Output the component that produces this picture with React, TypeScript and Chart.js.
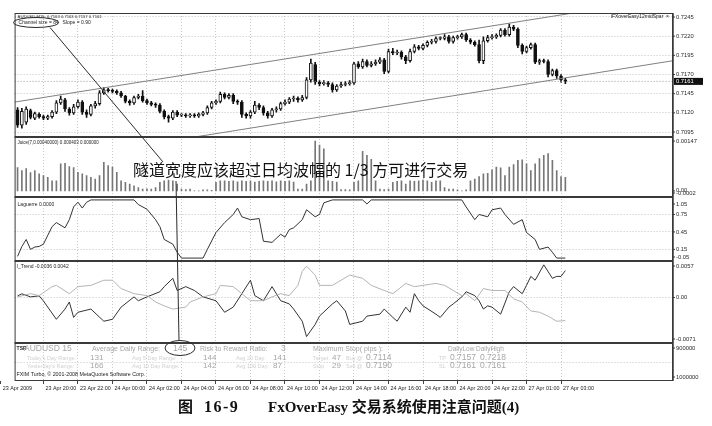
import { useEffect, useRef } from "react";
import { Chart, registerables } from "chart.js";

Chart.register(...registerables);

const FONT = '"Liberation Sans", Arial, sans-serif';
const CJK = '"Noto Sans CJK SC", sans-serif';

// AUDUSD M15 candles, index 0 = first bar on the left
const OPEN = [
  0.7124, 0.7104, 0.7108, 0.7123, 0.7113, 0.7118, 0.7115, 0.7113, 0.7115, 0.7121,
  0.7133, 0.7137, 0.7125, 0.712, 0.7128, 0.7134, 0.7121, 0.7118, 0.7129, 0.7132,
  0.7146, 0.715, 0.7149, 0.7148, 0.7146, 0.7142, 0.7135, 0.7133, 0.714, 0.7142,
  0.7136, 0.7133, 0.7131, 0.713, 0.7122, 0.7115, 0.7113, 0.7121, 0.7117, 0.7117,
  0.7116, 0.7117, 0.7116, 0.7118, 0.712, 0.7127, 0.7133, 0.7135, 0.7144, 0.714,
  0.7143, 0.7135, 0.7134, 0.7118, 0.7116, 0.7121, 0.713, 0.7127, 0.712, 0.7116,
  0.7124, 0.7125, 0.7132, 0.7134, 0.7138, 0.7139, 0.7137, 0.714, 0.7163, 0.7183,
  0.716, 0.7158, 0.7159, 0.7157, 0.715, 0.7155, 0.7157, 0.7158, 0.7159, 0.7184,
  0.718, 0.7187, 0.7182, 0.7184, 0.7186, 0.7189, 0.7174, 0.72, 0.7198, 0.7199,
  0.7193, 0.7188, 0.72, 0.7206, 0.7204, 0.7208, 0.7212, 0.7213, 0.7217, 0.7217,
  0.7219, 0.7213, 0.7218, 0.7219, 0.7222, 0.7215, 0.7212, 0.7209, 0.7188, 0.7214,
  0.7218, 0.7219, 0.7221, 0.7228, 0.7222, 0.7232, 0.7229, 0.7208, 0.72, 0.7205,
  0.7209, 0.7186, 0.7188, 0.7187, 0.717, 0.7175, 0.7168, 0.7163,
];
const HIGH = [
  0.7127, 0.7126, 0.7128, 0.7125, 0.7121, 0.712, 0.7117, 0.7117, 0.7123, 0.7136,
  0.7142, 0.7139, 0.7127, 0.7131, 0.7137, 0.7136, 0.7124, 0.7131, 0.7135, 0.7149,
  0.7153, 0.7152, 0.7151, 0.715, 0.7148, 0.7143, 0.7137, 0.7142, 0.7144, 0.7149,
  0.7138, 0.7135, 0.7133, 0.7132, 0.7124, 0.7117, 0.7123, 0.7123, 0.7119, 0.7119,
  0.7119, 0.7119, 0.712, 0.7122, 0.7129, 0.7135, 0.7137, 0.7147, 0.7146, 0.7145,
  0.7145, 0.7137, 0.7136, 0.712, 0.7123, 0.7135, 0.7132, 0.7129, 0.7122, 0.7126,
  0.7128, 0.7134, 0.7137, 0.714, 0.7142, 0.7141, 0.7143, 0.7166, 0.719, 0.7186,
  0.7162, 0.7162, 0.7161, 0.7159, 0.7157, 0.716, 0.7161, 0.7162, 0.7186, 0.7187,
  0.719, 0.7189, 0.7187, 0.7189, 0.7192, 0.7191, 0.7203, 0.7204, 0.7202, 0.7201,
  0.7195, 0.7203, 0.7209, 0.7208, 0.721, 0.7214, 0.7216, 0.7219, 0.7219, 0.7222,
  0.7221, 0.722, 0.7221, 0.7224, 0.7224, 0.7217, 0.7214, 0.7215, 0.7219, 0.7221,
  0.7222, 0.7223, 0.723, 0.723, 0.7236, 0.7234, 0.7231, 0.721, 0.7207, 0.7211,
  0.7211, 0.719, 0.719, 0.7189, 0.7177, 0.7177, 0.717, 0.7165,
];
const LOW = [
  0.7101, 0.71, 0.7105, 0.7112, 0.7111, 0.7113, 0.7111, 0.7111, 0.7113, 0.7119,
  0.7131, 0.7122, 0.7117, 0.7118, 0.7126, 0.7118, 0.7114, 0.7116, 0.7126, 0.713,
  0.7144, 0.7147, 0.7146, 0.7144, 0.714, 0.7133, 0.713, 0.7131, 0.7138, 0.7134,
  0.7131, 0.7129, 0.7127, 0.712, 0.7112, 0.7108, 0.7111, 0.7115, 0.7115, 0.7114,
  0.7114, 0.7114, 0.7114, 0.7116, 0.7118, 0.7125, 0.7131, 0.7133, 0.7138, 0.7138,
  0.7132, 0.7131, 0.7114, 0.7113, 0.7113, 0.7119, 0.7124, 0.7117, 0.7113, 0.7114,
  0.7121, 0.7123, 0.713, 0.7132, 0.7135, 0.7134, 0.7135, 0.7138, 0.716, 0.7157,
  0.7155, 0.7156, 0.7154, 0.7147, 0.7148, 0.7153, 0.7155, 0.7156, 0.7157, 0.7178,
  0.7178, 0.718, 0.718, 0.7182, 0.7184, 0.7171, 0.7172, 0.7196, 0.7196, 0.719,
  0.7184, 0.7186, 0.7198, 0.7202, 0.7202, 0.7206, 0.721, 0.7211, 0.7215, 0.7215,
  0.7211, 0.7211, 0.7216, 0.7217, 0.7213, 0.721, 0.7207, 0.7185, 0.7184, 0.7212,
  0.7216, 0.7217, 0.7219, 0.722, 0.722, 0.7227, 0.7205, 0.7197, 0.7198, 0.7203,
  0.7184, 0.7183, 0.7185, 0.7167, 0.7168, 0.7165, 0.716, 0.7158,
];
const CLOSE = [
  0.7104, 0.7122, 0.7125, 0.7114, 0.7119, 0.7115, 0.7113, 0.7115, 0.7121, 0.7133,
  0.7138, 0.7125, 0.712, 0.7128, 0.7134, 0.7121, 0.7118, 0.7129, 0.7132, 0.7146,
  0.715, 0.7149, 0.7148, 0.7146, 0.7142, 0.7135, 0.7133, 0.714, 0.7142, 0.7136,
  0.7133, 0.7131, 0.713, 0.7122, 0.7115, 0.7113, 0.7121, 0.7117, 0.7117, 0.7116,
  0.7117, 0.7116, 0.7118, 0.712, 0.7127, 0.7133, 0.7135, 0.7144, 0.714, 0.7143,
  0.7135, 0.7134, 0.7118, 0.7116, 0.7121, 0.713, 0.7127, 0.712, 0.7116, 0.7124,
  0.7125, 0.7132, 0.7134, 0.7138, 0.7139, 0.7137, 0.714, 0.7163, 0.7185, 0.716,
  0.7158, 0.7159, 0.7157, 0.715, 0.7155, 0.7157, 0.7158, 0.7159, 0.7184, 0.718,
  0.7187, 0.7182, 0.7184, 0.7186, 0.7189, 0.7174, 0.72, 0.7198, 0.7199, 0.7193,
  0.7188, 0.72, 0.7206, 0.7204, 0.7208, 0.7212, 0.7213, 0.7217, 0.7217, 0.7219,
  0.7213, 0.7218, 0.7219, 0.7222, 0.7215, 0.7212, 0.7209, 0.7188, 0.7214, 0.7218,
  0.7219, 0.7221, 0.7228, 0.7222, 0.7232, 0.7229, 0.7208, 0.72, 0.7205, 0.7209,
  0.7186, 0.7188, 0.7187, 0.717, 0.7175, 0.7168, 0.7163, 0.7161,
];

// tunnel lines: value at the left and right edge of the chart
const X_MIN = -0.69;
const X_MAX = 151.96;
const CHANNEL_UP = [0.7134, 0.7271];
const CHANNEL_DN = [0.7051, 0.7188];
const BID = 0.7161;

const JUICE = [
  0.00069, 0.0006, 0.00066, 0.00054, 0.0006, 0.0005, 0.00045, 0.0004, 0.0003, 0.0003,
  0.0008, 0.00081, 0.00072, 0.00069, 0.00055, 0.0005, 0.00045, 0.0004, 0.00035, 0.00045,
  0.00084, 0.00075, 0.0007, 0.00055, 0.0003, 0.00025, 0.0002, 0.00015, 0.0001, 0.00005,
  0.00006, 0.00005, 0.0001, 0.00025, 0.0003, 0.00032, 0.0003, 0.0002, 0.00005, 0.00004,
  0.00005, 0, 0, 0.00003, 0.00003, 0.00002, 0.00025, 0.0003, 0.0003, 0.00028,
  0.0003, 0.00027, 0.0003, 0.00028, 0.0003, 0.00026, 0.00028, 0.0003, 0.00028, 0.0003,
  0.00027, 0.0003, 0.00028, 0.0003, 0.00026, 0.00005, 0.00005, 0.0002, 0.0003, 0.00147,
  0.00135, 0.00124, 0.0003, 0.00028, 0.00026, 0.00004, 0.00004, 0.00003, 0.00025, 0.0003,
  0.00117, 0.00105, 0.00093, 0.0003, 0.00005, 0.00004, 0.00005, 0.00025, 0.00028, 0.0003,
  0.0002, 0.0003, 0.00028, 0.0003, 0.00032, 0.0003, 0.00025, 0.0003, 0.0003, 0.0001,
  0.00005, 0.00005, 0.00003, 0, 0.00003, 0.0003, 0.00035, 0.00042, 0.0005, 0.00052,
  0.00062, 0.0007, 0.00068, 0.00045, 0.0007, 0.00078, 0.0009, 0.00092, 0.0008, 0.0006,
  0.0008, 0.00095, 0.00105, 0.0011, 0.0009, 0.0006, 0.00042, 0.0004,
];

const LAG_X = [
  0, 1, 2, 3, 4, 5, 6, 8, 9, 11, 12, 13, 14, 15, 16, 17, 27, 28, 30, 32, 33, 34, 36, 37, 38,
  43, 44, 46, 48, 50, 51, 52, 54, 56, 57, 59, 61, 62, 63, 64, 66, 67, 69, 70, 71, 73, 80, 81,
  82, 103, 104, 106, 107, 109, 110, 112, 113, 115, 117, 118, 120, 121, 123, 124, 125, 127,
];
const LAG = [
  0.03, 0.2, 0.32, 0.15, 0.19, 0.2, 0.24, 0.54, 0.61, 0.52, 0.66, 0.88, 0.96, 0.86, 0.96, 1, 1,
  0.92, 0.84, 0.66, 0.54, 0.32, 0.24, 0.1, 0, 0, 0.15, 0.44, 0.61, 0.75, 0.86, 0.71, 0.66, 0.68,
  0.29, 0.27, 0.41, 0.36, 0.49, 0.52, 0.66, 0.83, 0.71, 0.75, 0.95, 1, 1, 0.93, 1, 1, 0.88, 0.66,
  0.75, 0.71, 0.83, 0.86, 0.75, 0.58, 0.66, 0.44, 0.32, 0.15, 0.19, 0.1, 0, 0,
];

const TREND_LIGHT_X = [
  0, 3, 5, 8, 9, 12, 14, 17, 20, 22, 24, 27, 30, 32, 34, 36, 39, 40, 43, 46, 47, 50, 52, 54,
  57, 59, 61, 63, 65, 66, 67, 69, 70, 73, 75, 77, 80, 82, 85, 87, 90, 92, 94, 97, 99, 101, 103,
  104, 106, 108, 110, 113, 115, 117, 119, 121, 123, 125, 127,
];
const TREND_LIGHT = [
  0.0001, 0.0006, 0.0003, 0.0017, 0.0019, 0.0006, 0.0017, 0.0019, 0.0027, 0.0027, 0.0014,
  0.0006, 0.0003, -0.0007, -0.0013, -0.0018, -0.0015, -0.0007, 0.0001, 0.0006, 0.0019, 0.0017,
  0.0006, -0.0005, -0.0005, 0.0001, 0.0006, 0.0003, 0.0019, 0.0041, 0.0049, 0.0035, 0.0019,
  0.0019, 0.0027, 0.0035, 0.003, 0.0019, 0.0011, 0.0006, 0.0022, 0.0017, 0.0019, 0.0022, 0.0019,
  0.0011, 0.0003, 0.0006, -0.0005, 0.0014, 0.0011, 0.0011, -0.0002, -0.0007, -0.0021, -0.0023,
  -0.0029, -0.0037, -0.0036,
];
const TREND_DARK_X = [
  0, 1, 3, 5, 6, 9, 11, 12, 13, 14, 17, 20, 22, 24, 27, 28, 30, 33, 34, 36, 37, 39, 41, 43, 46,
  48, 50, 52, 54, 55, 57, 59, 61, 63, 64, 66, 67, 69, 70, 73, 74, 76, 77, 80, 81, 84, 85, 87, 88,
  90, 91, 92, 93, 94, 97, 98, 100, 101, 103, 104, 106, 107, 108, 109, 110, 112, 114, 115, 117,
  118, 119, 120, 122, 124, 125, 126, 127,
];
const TREND_DARK = [
  0.00026, 0.00058, 0.0001, 0.00026, -0.00054, -0.0034, -0.0018, -0.0007, -0.0031, -0.0023,
  -0.0018, -0.0037, -0.0034, -0.0015, 0.0001, -0.0005, 0.0001, 0.0009, 0.0017, 0.003, 0.0011,
  0.0017, 0.0011, 0.0001, -0.0005, -0.0023, -0.0015, 0.0006, 0.0027, 0.0003, -0.0005, 0.0017,
  -0.0005, -0.001, -0.0018, -0.0037, -0.0061, -0.0042, -0.0029, -0.001, -0.0005, -0.0021,
  -0.0042, -0.0037, -0.0029, -0.0026, -0.0018, -0.0031, -0.0037, -0.0015, -0.0023, 0.0006,
  -0.0005, -0.0013, -0.0026, -0.0031, -0.0015, -0.001, 0.0001, 0.0009, 0.0003, -0.0005, -0.0018,
  -0.0013, -0.0015, -0.0026, 0.0009, 0.0017, 0.0006, 0.0019, 0.0033, 0.0027, 0.0051, 0.003,
  0.0033, 0.0033, 0.0042,
];

const X_TICKS = [-3.9, 6, 14, 22, 30, 38, 46, 54, 62, 70, 78, 86, 94, 102, 110, 118, 126];
const X_LABELS = [
  "23 Apr 2009", "23 Apr 20:00", "23 Apr 22:00", "24 Apr 00:00", "24 Apr 02:00",
  "24 Apr 04:00", "24 Apr 06:00", "24 Apr 08:00", "24 Apr 10:00", "24 Apr 12:00",
  "24 Apr 14:00", "24 Apr 16:00", "24 Apr 18:00", "24 Apr 20:00", "24 Apr 22:00",
  "27 Apr 01:00", "27 Apr 03:00",
];

const MAIN_TICKS = [0.7245, 0.722, 0.7195, 0.717, 0.7145, 0.712, 0.7095];
const JUICE_TICKS = [0.00147, 0, -0.0002];
const JUICE_TEXT = ["0.00147", "0.00", "-0.0002"];
const LAG_TICKS = [1.05, 0.75, 0.45, 0.15, -0.05];
const TREND_TICKS = [0.0057, 0, -0.0071];
const TREND_TEXT = ["0.0057", "0.00", "-0.0071"];
const TSR_TICKS = [900000, 1000000];

function paneAxis(weight: number, min: number, max: number, grid: number[], reverse = false) {
  return {
    type: "linear",
    position: "right",
    stack: "panes",
    stackWeight: weight,
    min,
    max,
    reverse,
    ticks: { display: false },
    grid: { color: "#c2c2c2", lineWidth: 1, drawTicks: false },
    border: { display: false, dash: [1, 2] },
    afterBuildTicks: (s: any) => {
      s.ticks = grid.map((v) => ({ value: v }));
    },
    afterFit: (s: any) => {
      s.width = 39;
    },
  };
}

const overlay = {
  id: "mt4Overlay",
  afterDraw(chart: any) {
    const { ctx, chartArea: a, scales: s } = chart;
    const text = (str: string, x: number, y: number, size: number, color = "#222", align = "left", family = FONT, weight = "normal") => {
      ctx.font = `${weight} ${size}px ${family}`;
      ctx.fillStyle = color;
      ctx.textAlign = align;
      ctx.textBaseline = "middle";
      ctx.fillText(str, x, y);
    };
    ctx.save();

    // frame and pane separators
    ctx.strokeStyle = "#3a3a3a";
    ctx.lineWidth = 1;
    ctx.strokeRect(a.left + 0.5, a.top + 0.5, a.right - a.left - 1, a.bottom - a.top - 1);
    ctx.lineWidth = 2;
    for (const id of ["yMain", "yJuice", "yLag", "yTrend"]) {
      const y = Math.round(s[id].bottom);
      ctx.beginPath();
      ctx.moveTo(a.left, y);
      ctx.lineTo(a.right, y);
      ctx.stroke();
    }
    ctx.lineWidth = 1.5;
    ctx.beginPath();
    ctx.moveTo(a.right, a.top);
    ctx.lineTo(a.right, a.bottom);
    ctx.stroke();

    // right hand scales
    const panes = [
      { id: "yMain", ticks: MAIN_TICKS, text: MAIN_TICKS.map((v) => v.toFixed(4)), pad: 4 },
      { id: "yJuice", ticks: JUICE_TICKS, text: JUICE_TEXT, pad: 4 },
      { id: "yLag", ticks: LAG_TICKS, text: LAG_TICKS.map((v) => v.toFixed(2)), pad: 7 },
      { id: "yTrend", ticks: TREND_TICKS, text: TREND_TEXT, pad: 5 },
      { id: "yTsr", ticks: TSR_TICKS, text: TSR_TICKS.map(String), pad: 5 },
    ];
    ctx.lineWidth = 1;
    for (const p of panes) {
      const sc = s[p.id];
      p.ticks.forEach((v, k) => {
        const y = Math.min(Math.max(sc.getPixelForValue(v), sc.top + p.pad), sc.bottom - 4);
        ctx.beginPath();
        ctx.moveTo(a.right, y);
        ctx.lineTo(a.right + 2, y);
        ctx.stroke();
        text(p.text[k], a.right + 3, y, 5.8, "#2a2a2a");
      });
    }
    const yb = s.yMain.getPixelForValue(BID);
    ctx.fillStyle = "#111";
    ctx.fillRect(a.right + 1, yb - 3.5, 29, 7);
    text(BID.toFixed(4), a.right + 3, yb, 5.8, "#fff");

    // pane captions
    const mt = s.yMain.top;
    text("AUDUSD,M15  0.7163 0.7163 0.7157 0.7161", a.left + 3, mt + 4, 4.2);
    text("Channel size = 84", a.left + 4, mt + 10, 5);
    text("Slope = 0.90", a.left + 48, mt + 10, 5);
    text("iFXoverEasy12midSpar  \u00d7", a.right - 4, mt + 4, 5, "#222", "right");
    text("Juice(7,0.00040000) 0.000403 0.000000", a.left + 3, s.yJuice.top + 6, 4.5);
    text("Laguerre 0.0000", a.left + 3, s.yLag.top + 8, 5);
    text("I_Trend -0.0036 0.0042", a.left + 2, s.yTrend.top + 6, 5);

    // TSR information pane
    const t0 = s.yTsr.top;
    const faint = "#d0d0d0";
    const mid = "#a6a6a6";
    text("TSR", a.left + 2, t0 + 6, 5, "#222", "left", FONT, "bold");
    text("AUDUSD 15", 24, t0 + 6, 8.5, mid);
    text("Average Daily Range:", 92, t0 + 6, 7, mid);
    text("145", 173, t0 + 6, 8.5, mid);
    text("Risk to Reward Ratio:", 200, t0 + 6, 7, mid);
    text("3", 281, t0 + 6, 8.5, mid);
    text("Maximum Stop( pips ):", 313, t0 + 6, 7, mid);
    text("DailyLow", 448, t0 + 6, 6.5, mid);
    text("DailyHigh", 476, t0 + 6, 6.5, mid);
    const rows: string[][] = [
      ["Today's Day Range:", "131", "Avg 5 Day Range:", "144", "Avg 20 Day:", "141", "Target", "47", "Buy @", "0.7114", "TP", "0.7157", "0.7218"],
      ["Yesterday's Range:", "166", "Avg 10 Day Range:", "142", "Avg 100 Day:", "87", "Stop", "29", "Sell @", "0.7190", "SL", "0.7161", "0.7161"],
    ];
    rows.forEach((r, k) => {
      const y = t0 + 15 + k * 8;
      text(r[0], 27, y, 5.5, faint);
      text(r[1], 90, y, 8, mid);
      text(r[2], 132, y, 5.5, faint);
      text(r[3], 203, y, 8, mid);
      text(r[4], 236, y, 5.5, faint);
      text(r[5], 273, y, 8, mid);
      text(r[6], 313, y, 5.5, faint);
      text(r[7], 332, y, 8, mid);
      text(r[8], 346, y, 5.5, faint);
      text(r[9], 366, y, 8.5, mid);
      text(r[10], 439, y, 5.5, faint);
      text(r[11], 450, y, 8.5, mid);
      text(r[12], 480, y, 8.5, mid);
    });
    text("FXIM Turbo, \u00a9 2001-2008 MetaQuotes Software Corp.", a.left + 2, t0 + 32, 5.3);

    // book annotation
    ctx.strokeStyle = "#2a2a2a";
    ctx.lineWidth = 1;
    ctx.beginPath();
    ctx.ellipse(36, 22.5, 22.5, 5, 0, 0, Math.PI * 2);
    ctx.stroke();
    ctx.beginPath();
    ctx.moveTo(50, 27.5);
    ctx.lineTo(163, 162);
    ctx.stroke();
    ctx.beginPath();
    ctx.moveTo(176, 181);
    ctx.lineTo(179, 340.5);
    ctx.stroke();
    ctx.beginPath();
    ctx.ellipse(180, 348, 15, 7.5, 0, 0, Math.PI * 2);
    ctx.stroke();
    text("隧道宽度应该超过日均波幅的 1/3 方可进行交易", 133, 170, 16, "#111", "left", CJK);

    ctx.restore();
  },
};

export default function App() {
  const canvasRef = useRef<HTMLCanvasElement>(null);

  useEffect(() => {
    if (!canvasRef.current) return;
    const bars = CLOSE.map((_, i) => i);
    const chart = new Chart(canvasRef.current, {
      type: "line",
      data: {
        datasets: [
          {
            type: "bar",
            yAxisID: "yMain",
            data: bars.map((i) => ({ x: i, y: [LOW[i], HIGH[i]] })),
            backgroundColor: "#111",
            borderWidth: 0,
            barThickness: 1,
            grouped: false,
            order: 3,
          },
          {
            type: "bar",
            yAxisID: "yMain",
            data: bars.map((i) => ({ x: i, y: [OPEN[i], CLOSE[i]] })),
            backgroundColor: bars.map((i) => (CLOSE[i] >= OPEN[i] ? "#fff" : "#111")),
            borderColor: "#111",
            borderWidth: 1,
            borderSkipped: false,
            barThickness: 3,
            minBarLength: 1,
            grouped: false,
            order: 2,
          },
          {
            yAxisID: "yMain",
            data: [
              { x: X_MIN, y: CHANNEL_UP[0] },
              { x: X_MAX, y: CHANNEL_UP[1] },
            ],
            borderColor: "#808080",
            borderWidth: 1,
            pointRadius: 0,
          },
          {
            yAxisID: "yMain",
            data: [
              { x: X_MIN, y: CHANNEL_DN[0] },
              { x: X_MAX, y: CHANNEL_DN[1] },
            ],
            borderColor: "#808080",
            borderWidth: 1,
            pointRadius: 0,
          },
          {
            yAxisID: "yMain",
            data: [
              { x: X_MIN, y: BID },
              { x: X_MAX, y: BID },
            ],
            borderColor: "#9a9a9a",
            borderWidth: 1,
            borderDash: [1, 2],
            pointRadius: 0,
          },
          {
            type: "bar",
            yAxisID: "yJuice",
            data: bars.map((i) => ({ x: i, y: JUICE[i] })),
            backgroundColor: "#777",
            barThickness: 1,
            grouped: false,
          },
          {
            yAxisID: "yLag",
            data: LAG_X.map((x, k) => ({ x, y: LAG[k] })),
            borderColor: "#333",
            borderWidth: 1,
            pointRadius: 0,
          },
          {
            yAxisID: "yTrend",
            data: TREND_LIGHT_X.map((x, k) => ({ x, y: TREND_LIGHT[k] })),
            borderColor: "#b4b4b4",
            borderWidth: 1,
            pointRadius: 0,
          },
          {
            yAxisID: "yTrend",
            data: TREND_DARK_X.map((x, k) => ({ x, y: TREND_DARK[k] })),
            borderColor: "#333",
            borderWidth: 1,
            pointRadius: 0,
          },
        ] as any,
      },
      options: {
        responsive: false,
        animation: false,
        events: [],
        layout: { padding: { left: 12, top: 13, right: 0, bottom: 31 } },
        plugins: { legend: { display: false }, tooltip: { enabled: false } },
        scales: {
          x: {
            type: "linear",
            min: X_MIN,
            max: X_MAX,
            offset: false,
            grid: {
              color: (c: any) => (c.index === 0 ? "rgba(0,0,0,0)" : "#c8c8c8"),
              tickColor: "#444",
              tickLength: 3,
              offset: false,
            },
            border: { display: false, dash: [1, 2] },
            ticks: {
              autoSkip: false,
              maxRotation: 0,
              minRotation: 0,
              align: "start",
              labelOffset: 2,
              padding: 1,
              color: "#222",
              font: { family: FONT, size: 5.4 },
              callback: (_v: any, i: number) => X_LABELS[i],
            },
            afterBuildTicks: (s: any) => {
              s.ticks = X_TICKS.map((v) => ({ value: v }));
            },
            afterFit: (s: any) => {
              s.height = 14;
            },
          },
          yMain: paneAxis(124, 0.70885, 0.72502, MAIN_TICKS),
          yJuice: paneAxis(60, -0.00018, 0.00159, []),
          yLag: paneAxis(64, -0.05, 1.05, [0.75, 0.45, 0.15]),
          yTrend: paneAxis(82, -0.0071, 0.0057, [0]),
          yTsr: paneAxis(38, 900000, 1000000, [950000], true),
        } as any,
      },
      plugins: [overlay as any],
    });
    return () => chart.destroy();
  }, []);

  const cap = {
    position: "absolute" as const,
    top: 399,
    font: 'bold 15px "Liberation Serif", "Noto Sans CJK SC", serif',
    lineHeight: "16px",
    whiteSpace: "pre" as const,
    color: "#111",
  };

  return (
    <div style={{ position: "fixed", left: 0, top: 0, width: 712, height: 426, background: "#fff" }}>
      <canvas ref={canvasRef} width={712} height={426} style={{ display: "block" }} />
      <span style={{ ...cap, left: 178 }}>图</span>
      <span style={{ ...cap, left: 204, fontSize: 16, letterSpacing: 1.5 }}>16-9</span>
      <span style={{ ...cap, left: 268 }}>FxOverEasy 交易系统使用注意问题(4)</span>
    </div>
  );
}
